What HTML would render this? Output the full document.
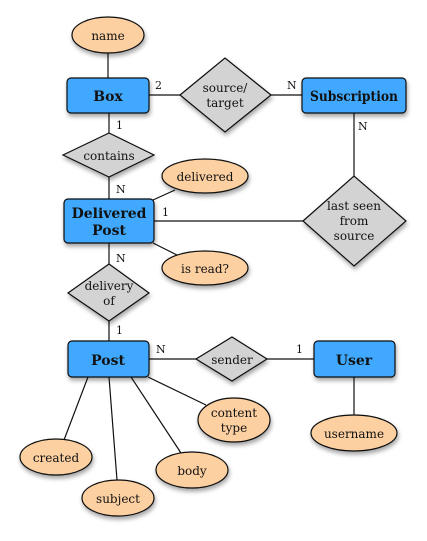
<!DOCTYPE html>
<html><head><meta charset="utf-8"><style>
html,body{margin:0;padding:0;background:#fff;width:427px;height:541px;overflow:hidden}
svg text{font-family:"DejaVu Serif","Liberation Serif",serif;fill:#111}
</style></head><body>
<svg width="427" height="541" viewBox="0 0 427 541" xmlns="http://www.w3.org/2000/svg">
<defs><filter id="s" x="-20%" y="-20%" width="150%" height="160%"><feDropShadow dx="1" dy="3" stdDeviation="2" flood-color="#000" flood-opacity="0.35"/></filter></defs>
<g stroke="#111" stroke-width="1.2" fill="none">
<line x1="108" y1="53" x2="108" y2="78"/>
<line x1="149" y1="95" x2="302" y2="95"/>
<line x1="109" y1="113" x2="109" y2="199"/>
<line x1="354" y1="113" x2="354" y2="176"/>
<line x1="154" y1="221" x2="303" y2="221"/>
<line x1="153" y1="200" x2="175" y2="190"/>
<line x1="153" y1="243" x2="177" y2="255"/>
<line x1="109" y1="243" x2="109" y2="341"/>
<line x1="149" y1="359" x2="314" y2="359"/>
<line x1="354" y1="377" x2="354" y2="415"/>
<line x1="88" y1="377" x2="64" y2="440"/>
<line x1="109" y1="377" x2="117" y2="480"/>
<line x1="131" y1="377" x2="181" y2="453"/>
<line x1="148" y1="377" x2="206" y2="405"/>
</g>
<g stroke="#111" stroke-width="1.2" filter="url(#s)">
<g fill="#fdd0a2">
<ellipse cx="108" cy="35" rx="36" ry="18"/>
<ellipse cx="205" cy="176" rx="43" ry="17"/>
<ellipse cx="205" cy="268" rx="43" ry="17"/>
<ellipse cx="234" cy="420" rx="36" ry="22"/>
<ellipse cx="354" cy="433" rx="43" ry="18"/>
<ellipse cx="56" cy="457" rx="36" ry="18"/>
<ellipse cx="192" cy="470" rx="36" ry="18"/>
<ellipse cx="118" cy="498" rx="36" ry="18"/>
</g>
<g fill="#d3d3d3">
<polygon points="180,95 225,58 271,95 225,132"/>
<polygon points="63,155 109,133 154,155 109,177"/>
<polygon points="303,221 354,176 406,221 354,266"/>
<polygon points="68,293 109,264 149,293 109,321"/>
<polygon points="196,359 232,337 267,359 232,381"/>
</g>
<g fill="#3fa9ff">
<rect x="67" y="78" width="82" height="35" rx="4"/>
<rect x="302" y="78" width="104" height="35" rx="4"/>
<rect x="64" y="199" width="90" height="44" rx="4"/>
<rect x="68" y="341" width="81" height="36" rx="4"/>
<rect x="314" y="341" width="81" height="36" rx="4"/>
</g>
</g>
<g font-size="12" text-anchor="middle">
<text x="108" y="40">name</text>
<text x="225" y="92">source/</text><text x="225" y="107">target</text>
<text x="109" y="160">contains</text>
<text x="205" y="181">delivered</text>
<text x="354" y="210">last seen</text><text x="354" y="225">from</text><text x="354" y="240">source</text>
<text x="205" y="273">is read?</text>
<text x="109" y="290">delivery</text><text x="109" y="305">of</text>
<text x="232" y="364">sender</text>
<text x="234" y="417">content</text><text x="234" y="432">type</text>
<text x="354" y="438">username</text>
<text x="56" y="462">created</text>
<text x="192" y="475">body</text>
<text x="118" y="503">subject</text>
</g>
<g font-size="14" font-weight="bold" text-anchor="middle">
<text x="108" y="101">Box</text>
<text x="354" y="101" textLength="88" lengthAdjust="spacingAndGlyphs">Subscription</text>
<text x="109" y="218">Delivered</text><text x="109" y="235">Post</text>
<text x="108" y="365">Post</text>
<text x="354" y="365">User</text>
</g>
<g font-size="11">
<text x="155" y="89">2</text>
<text x="287" y="89">N</text>
<text x="116" y="129">1</text>
<text x="358" y="130">N</text>
<text x="116" y="193">N</text>
<text x="162" y="216">1</text>
<text x="116" y="262">N</text>
<text x="116" y="334">1</text>
<text x="156" y="353">N</text>
<text x="296" y="353">1</text>
</g>
</svg>
</body></html>
